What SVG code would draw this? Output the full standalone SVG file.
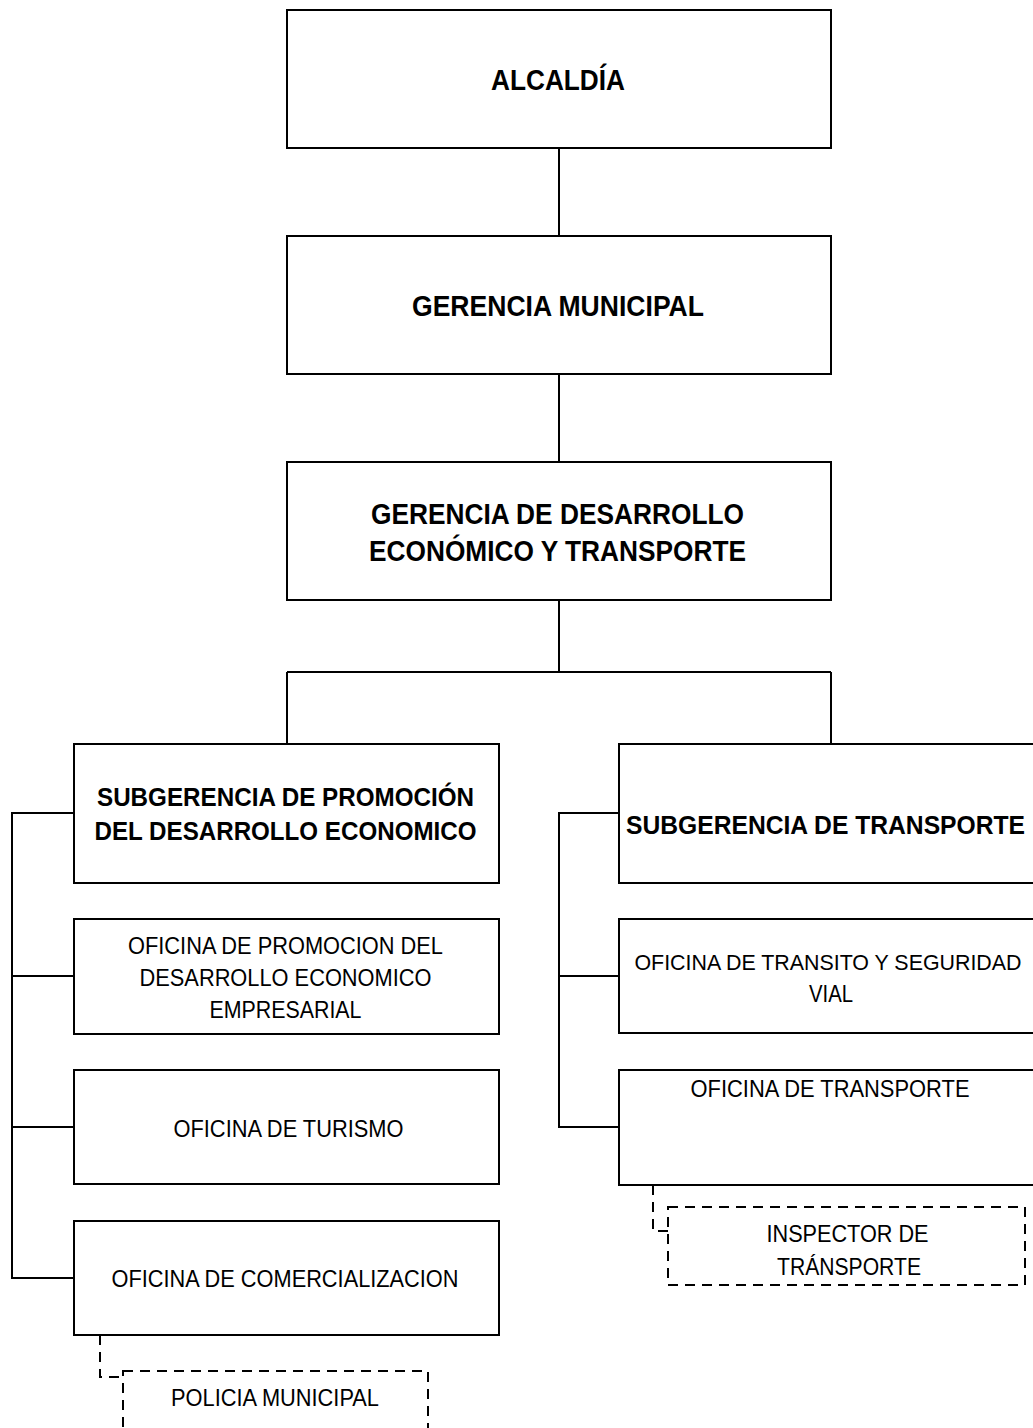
<svg xmlns="http://www.w3.org/2000/svg" width="1033" height="1428" viewBox="0 0 1033 1428">
<style>
.box{fill:#fff;stroke:#000;stroke-width:2}
.dbox{fill:#fff;stroke:#000;stroke-width:2;stroke-dasharray:10 7}
.ln{fill:none;stroke:#000;stroke-width:2}
.dln{fill:none;stroke:#000;stroke-width:2;stroke-dasharray:10 7}
text{font-family:"Liberation Sans",Arial,sans-serif;fill:#000;text-anchor:middle}
.t1{font-size:29px;font-weight:bold}
.t2{font-size:25px;font-weight:bold}
.t3{font-size:24px}
.t3s{font-size:21.4px}
</style>
<rect width="1033" height="1428" fill="#fff"/>
<g id="connectors">
<path class="ln" d="M559 148V236M559 374V462M559 600V672M287 672H831M287 672V744M831 672V744"/>
<path class="ln" d="M74 813H12V1278H74M12 976H74M12 1127H74"/>
<path class="ln" d="M619 813H559V1127H619M559 976H619"/>
<path class="dln" d="M100 1335V1377H123"/>
<path class="dln" d="M653 1185V1231H668"/>
</g>
<g id="alcaldia">
<rect class="box" x="287" y="10" width="544" height="138"/>
<text class="t1" x="558" y="90" textLength="134" lengthAdjust="spacingAndGlyphs">ALCALDÍA</text>
</g>
<g id="gerencia-municipal">
<rect class="box" x="287" y="236" width="544" height="138"/>
<text class="t1" x="558" y="316" textLength="292" lengthAdjust="spacingAndGlyphs">GERENCIA MUNICIPAL</text>
</g>
<g id="gerencia-desarrollo">
<rect class="box" x="287" y="462" width="544" height="138"/>
<text class="t1" x="557.5" y="524" textLength="373" lengthAdjust="spacingAndGlyphs">GERENCIA DE DESARROLLO</text>
<text class="t1" x="557.5" y="561" textLength="377" lengthAdjust="spacingAndGlyphs">ECONÓMICO Y TRANSPORTE</text>
</g>
<g id="subgerencia-promocion">
<rect class="box" x="74" y="744" width="425" height="139"/>
<text class="t2" x="285.5" y="806" textLength="377" lengthAdjust="spacingAndGlyphs">SUBGERENCIA DE PROMOCIÓN</text>
<text class="t2" x="285.5" y="840" textLength="382" lengthAdjust="spacingAndGlyphs">DEL DESARROLLO ECONOMICO</text>
</g>
<g id="oficina-promocion">
<rect class="box" x="74" y="919" width="425" height="115"/>
<text class="t3" x="285.5" y="954" textLength="315" lengthAdjust="spacingAndGlyphs">OFICINA DE PROMOCION DEL</text>
<text class="t3" x="285.5" y="986" textLength="292" lengthAdjust="spacingAndGlyphs">DESARROLLO ECONOMICO</text>
<text class="t3" x="285.5" y="1018" textLength="152" lengthAdjust="spacingAndGlyphs">EMPRESARIAL</text>
</g>
<g id="oficina-turismo">
<rect class="box" x="74" y="1070" width="425" height="114"/>
<text class="t3" x="288.5" y="1137" textLength="230" lengthAdjust="spacingAndGlyphs">OFICINA DE TURISMO</text>
</g>
<g id="oficina-comercializacion">
<rect class="box" x="74" y="1221" width="425" height="114"/>
<text class="t3" x="285" y="1287" textLength="347" lengthAdjust="spacingAndGlyphs">OFICINA DE COMERCIALIZACION</text>
</g>
<g id="policia-municipal">
<rect class="dbox" x="123" y="1371" width="305" height="80"/>
<text class="t3" x="275" y="1406" textLength="208" lengthAdjust="spacingAndGlyphs">POLICIA MUNICIPAL</text>
</g>
<g id="subgerencia-transporte">
<rect class="box" x="619" y="744" width="416" height="139"/>
<text class="t2" x="825.5" y="834" textLength="399" lengthAdjust="spacingAndGlyphs">SUBGERENCIA DE TRANSPORTE</text>
</g>
<g id="oficina-transito">
<rect class="box" x="619" y="919" width="416" height="114"/>
<text class="t3s" x="828" y="970">OFICINA DE TRANSITO Y SEGURIDAD</text>
<text class="t3" x="831" y="1002" textLength="44" lengthAdjust="spacingAndGlyphs">VIAL</text>
</g>
<g id="oficina-transporte">
<rect class="box" x="619" y="1070" width="416" height="115"/>
<text class="t3" x="830" y="1097" textLength="279" lengthAdjust="spacingAndGlyphs">OFICINA DE TRANSPORTE</text>
</g>
<g id="inspector-transporte">
<rect class="dbox" x="668" y="1207" width="357" height="78"/>
<text class="t3" x="847.5" y="1242" textLength="162" lengthAdjust="spacingAndGlyphs">INSPECTOR DE</text>
<text class="t3" x="849" y="1275" textLength="144" lengthAdjust="spacingAndGlyphs">TRÁNSPORTE</text>
</g>
</svg>
